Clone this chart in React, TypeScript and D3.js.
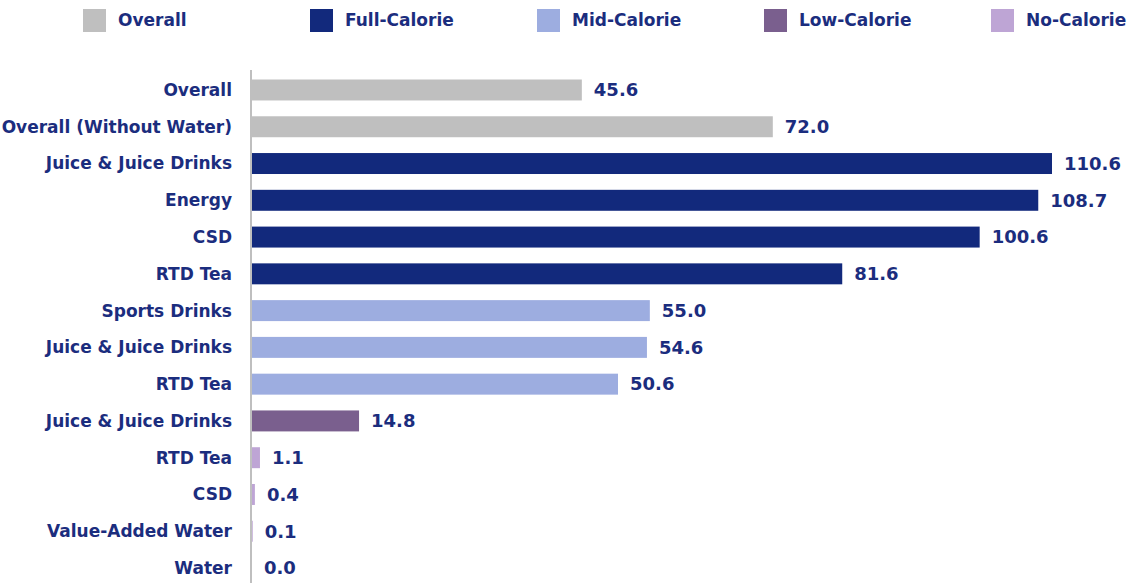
import React, { useEffect, useRef } from "react";
import * as d3 from "d3";

const categories = [
  "Overall",
  "Overall (Without Water)",
  "Juice & Juice Drinks",
  "Energy",
  "CSD",
  "RTD Tea",
  "Sports Drinks",
  "Juice & Juice Drinks",
  "RTD Tea",
  "Juice & Juice Drinks",
  "RTD Tea",
  "CSD",
  "Value-Added Water",
  "Water",
];
const values = [45.6, 72.0, 110.6, 108.7, 100.6, 81.6, 55.0, 54.6, 50.6, 14.8, 1.1, 0.4, 0.1, 0.0];
const groups = [
  "Overall", "Overall",
  "Full-Calorie", "Full-Calorie", "Full-Calorie", "Full-Calorie",
  "Mid-Calorie", "Mid-Calorie", "Mid-Calorie",
  "Low-Calorie",
  "No-Calorie", "No-Calorie", "No-Calorie", "No-Calorie",
];
const legendNames = ["Overall", "Full-Calorie", "Mid-Calorie", "Low-Calorie", "No-Calorie"];
const legendColors = ["#bfbfbf", "#12297c", "#9dade0", "#7a5f8e", "#bea5d5"];

const W = 1134;
const H = 583;
const TEXT = "#1b2d7e";
const FONT = "'DejaVu Sans', Verdana, sans-serif";

export default function App() {
  const ref = useRef<SVGSVGElement>(null);
  useEffect(() => {
    const svg = d3.select(ref.current);
    svg.selectAll("*").remove();
    const x = d3.scaleLinear().domain([0, 110.6]).range([252, 1052]);
    const y = d3
      .scaleBand<number>()
      .domain(d3.range(categories.length))
      .range([71.6, 586.4])
      .paddingInner(0.43)
      .paddingOuter(0.215);
    const color = d3.scaleOrdinal<string, string>().domain(legendNames).range(legendColors);

    // legend
    const lg = svg.append("g");
    legendNames.forEach((n, i) => {
      const lx = 83 + i * 227;
      lg.append("rect").attr("x", lx).attr("y", 9).attr("width", 23).attr("height", 23).attr("fill", color(n));
      lg.append("text")
        .attr("x", lx + 35)
        .attr("y", 20.5)
        .attr("dy", "0.35em")
        .attr("fill", TEXT)
        .attr("font-family", FONT)
        .attr("font-weight", "bold")
        .attr("font-size", 17)
        .text(n);
    });

    // bars
    svg
      .append("g")
      .selectAll("rect")
      .data(values)
      .join("rect")
      .attr("x", x(0))
      .attr("y", (_, i) => y(i)!)
      .attr("width", (d) => Math.max(0, x(d) - x(0)))
      .attr("height", y.bandwidth())
      .attr("fill", (_, i) => color(groups[i]));

    // axis line
    svg
      .append("line")
      .attr("x1", 251)
      .attr("x2", 251)
      .attr("y1", 70)
      .attr("y2", H)
      .attr("stroke", "#bfbfbf")
      .attr("stroke-width", 2);

    // category labels
    svg
      .append("g")
      .selectAll("text")
      .data(categories)
      .join("text")
      .attr("x", 232)
      .attr("y", (_, i) => y(i)! + y.bandwidth() / 2)
      .attr("dy", "0.35em")
      .attr("text-anchor", "end")
      .attr("fill", TEXT)
      .attr("font-family", FONT)
      .attr("font-weight", "bold")
      .attr("font-size", 17)
      .text((d) => d);

    // value labels
    svg
      .append("g")
      .selectAll("text")
      .data(values)
      .join("text")
      .attr("x", (d) => x(d) + 12)
      .attr("y", (_, i) => y(i)! + y.bandwidth() / 2)
      .attr("dy", "0.35em")
      .attr("fill", TEXT)
      .attr("font-family", FONT)
      .attr("font-weight", "bold")
      .attr("font-size", 18)
      .text((d) => d.toFixed(1));
  }, []);
  return (
    <svg
      ref={ref}
      width={W}
      height={H}
      style={{ position: "absolute", left: 0, top: 0, background: "#fff" }}
    />
  );
}
